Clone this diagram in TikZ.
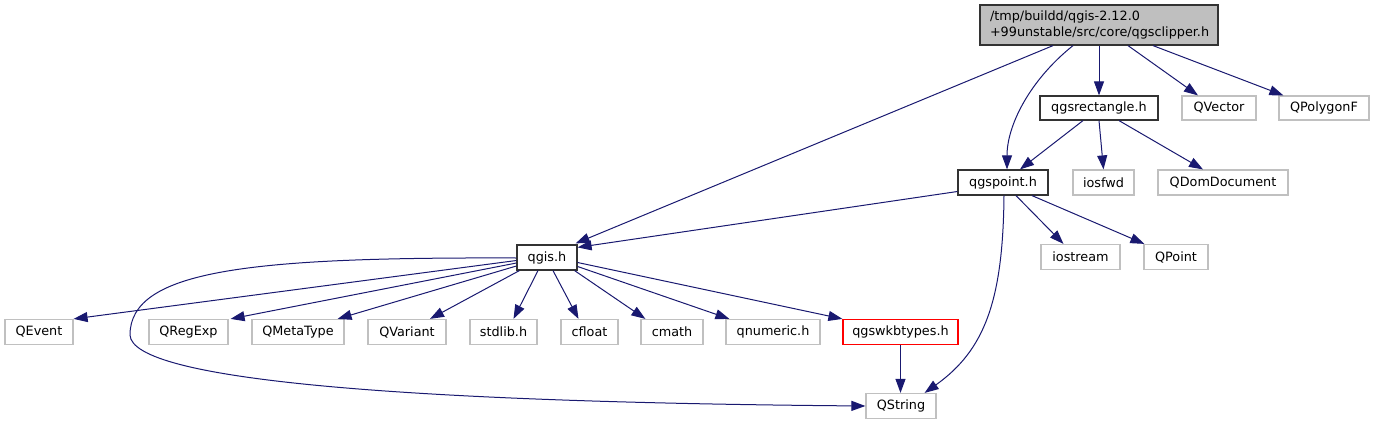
\documentclass[tikz,border=0pt]{standalone}
\usepackage{fontspec}
\setmainfont{DejaVu Sans}
\usetikzlibrary{arrows.meta,calc}
\definecolor{edgec}{HTML}{191970}
\definecolor{lgray}{HTML}{C0C0C0}
\definecolor{topfill}{HTML}{BFBFBF}
\begin{document}
\begin{tikzpicture}[x=0.75pt,y=-0.75pt,
  box/.style={draw=lgray, line width=0.9pt, minimum height=18.75pt, inner sep=0pt,
    font=\fontsize{9.6}{12}\selectfont, text=black},
  dbox/.style={box, draw=black!80},
  rbox/.style={box, draw=red},
  edge/.style={draw=edgec, line width=0.75pt, -{Triangle[length=10.5pt,width=7.5pt]}}]
\useasboundingbox (0,0) rectangle (1375,425);
% nodes
\node[dbox, fill=topfill, minimum width=178.5pt, minimum height=30pt, inner xsep=7.5pt,
  text width=163.5pt, align=left] (top) at (1099,25)
  {/tmp/buildd/qgis-2.12.0\\+99unstable/src/core/qgsclipper.h};
\node[dbox, minimum width=88.5pt, minimum height=18pt] (rect) at (1099,108) {qgsrectangle.h};
\node[box, minimum width=55.5pt, minimum height=18pt] (qvector) at (1219,108) {QVector};
\node[box, minimum width=67.5pt, minimum height=18pt] (qpoly) at (1324,108) {QPolygonF};
\node[dbox, minimum width=67.5pt] (point) at (1003,182.5) {qgspoint.h};
\node[box, minimum width=45.75pt] (iosfwd) at (1103.5,182.5) {iosfwd};
\node[box, minimum width=97.5pt] (qdom) at (1223,182.5) {QDomDocument};
\node[dbox, minimum width=45pt] (qgis) at (547,257.5) {qgis.h};
\node[box, minimum width=59.25pt] (iostream) at (1080.5,257) {iostream};
\node[box, minimum width=48pt] (qpoint) at (1176,257) {QPoint};
\node[box, minimum width=51pt] (qevent) at (39,332) {QEvent};
\node[box, minimum width=59.25pt] (qregexp) at (188.5,332) {QRegExp};
\node[box, minimum width=69pt] (qmeta) at (298,332) {QMetaType};
\node[box, minimum width=58.5pt] (qvariant) at (407,332) {QVariant};
\node[box, minimum width=50.25pt] (stdlib) at (503.5,332) {stdlib.h};
\node[box, minimum width=42.75pt] (cfloat) at (589.5,332) {cfloat};
\node[box, minimum width=46.5pt] (cmath) at (672,332) {cmath};
\node[box, minimum width=70.5pt] (qnumeric) at (773,332) {qnumeric.h};
\node[rbox, minimum width=86.25pt] (wkb) at (900.5,332) {qgswkbtypes.h};
\node[box, minimum width=52.5pt] (qstring) at (901,406) {QString};
% edges from top
\draw[edge] ($(top.south)+(-46,0)$) -- ($(qgis.north east)+(-2,-1)$);
\draw[edge] ($(top.south)+(-26,0)$) .. controls (1030,80) and (1007,125) .. ($(point.north)+(4,0)$);
\draw[edge] (top.south) -- (rect.north);
\draw[edge] ($(top.south)+(29,0)$) -- ($(qvector.north)+(-21,0)$);
\draw[edge] ($(top.south)+(54,0)$) -- ($(qpoly.north west)+(5,0)$);
% edges from qgsrectangle
\draw[edge] ($(rect.south)+(-16,0)$) -- ($(point.north)+(17,0)$);
\draw[edge] (rect.south) -- (iosfwd.north);
\draw[edge] ($(rect.south)+(20,0)$) -- ($(qdom.north)+(-20,0)$);
% edges from qgspoint
\draw[edge] ($(point.west)+(0,9)$) -- ($(qgis.north east)+(0,3)$);
\draw[edge] ($(point.south)+(13,0)$) -- ($(iostream.north)+(-17,0)$);
\draw[edge] ($(point.south)+(29,0)$) -- ($(qpoint.north west)+(1,0)$);
\draw[edge] ($(point.south)+(1,0)$) .. controls (1003,300) and (985,350) .. ($(qstring.north east)+(-12,0)$);
% edges from qgis
\draw[edge] ($(qgis.west)+(0,0.5)$) .. controls (250,257) and (130,270) .. (130,335)
  .. controls (132,380) and (400,402) .. (qstring.west);
\draw[edge] ($(qgis.west)+(0,3)$) -- (qevent.north east);
\draw[edge] ($(qgis.west)+(0,5.5)$) -- ($(qregexp.north east)+(2,0)$);
\draw[edge] ($(qgis.west)+(0,8.5)$) -- ($(qmeta.north east)+(-7,0)$);
\draw[edge] ($(qgis.south west)+(3,0)$) -- ($(qvariant.north)+(23,0)$);
\draw[edge] ($(qgis.south)+(-9,0)$) -- ($(stdlib.north)+(10,0)$);
\draw[edge] ($(qgis.south)+(6,0)$) -- ($(cfloat.north)+(-11,0)$);
\draw[edge] ($(qgis.south east)+(-3,0)$) -- ($(cmath.north west)+(5,0)$);
\draw[edge] ($(qgis.east)+(0,9)$) -- ($(qnumeric.north west)+(4,0)$);
\draw[edge] ($(qgis.east)+(0,5)$) -- (wkb.north west);
% edge from qgswkbtypes
\draw[edge] (wkb.south) -- (wkb.south |- qstring.north);
\end{tikzpicture}
\end{document}
